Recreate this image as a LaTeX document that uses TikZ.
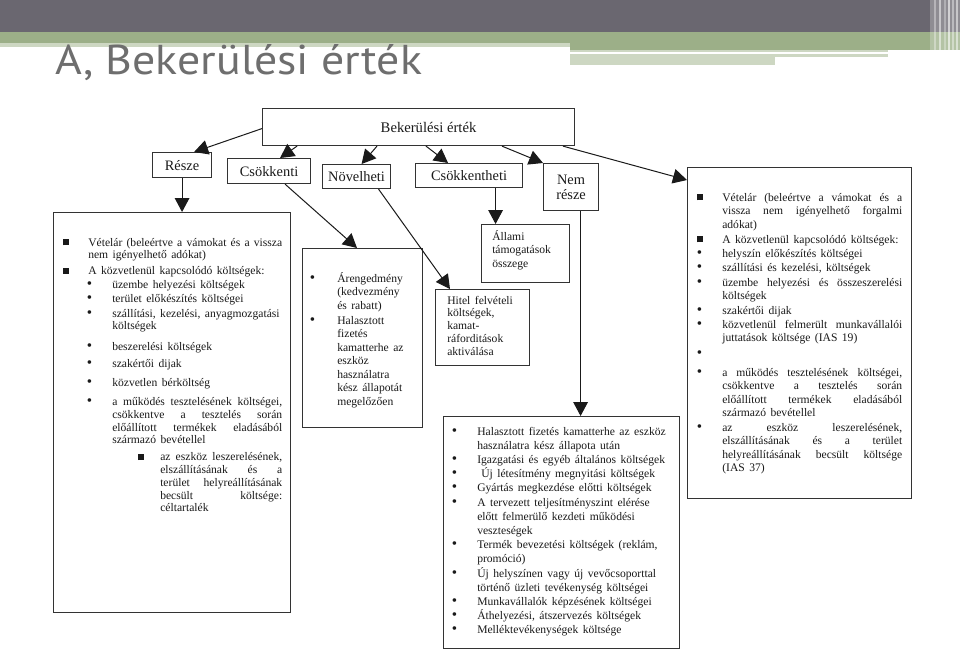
\documentclass[tikz,border=0pt]{standalone}
\usepackage{fontspec}
\setmainfont{Liberation Serif}
\newfontfamily\titlefont{PT Sans}
\usetikzlibrary{arrows.meta,calc}
\newlength\pxl \setlength\pxl{0.75pt}
\definecolor{hdrgray}{HTML}{6A6770}
\definecolor{hdrgreen}{HTML}{9CAF88}
\definecolor{hdrlight}{HTML}{CDD7C2}
\definecolor{titlegray}{HTML}{6E6E6E}
\definecolor{ink}{HTML}{1A1A1A}
\definecolor{boxline}{HTML}{333333}
\newcommand\Sq{\raisebox{0.6\pxl}{\rule{6\pxl}{6\pxl}}}
\newcommand\Bu{\scalebox{1.3}{\textbullet}}
\newcommand\It[4]{\leftskip=#1\pxl\noindent\llap{#2\hspace{#3\pxl}}#4\par}
\newcommand\vgap[1]{\par\vskip#1\pxl}
\newcommand\setbody[1]{\fontsize{8.7pt}{10pt}\selectfont\baselineskip=#1\pxl\tolerance=10000\hbadness=10000\hfuzz=30pt\hyphenpenalty=10000\parindent=0pt\parskip=0pt}
\tikzset{
  box/.style={draw=boxline, line width=0.85pt, inner sep=0pt, text=ink, anchor=north west},
  lbl/.style={font={\fontsize{10.8pt}{11.5pt}\selectfont}},
  body/.style={anchor=base west, inner sep=0pt, text=ink},
  arr/.style={draw=ink, line width=0.75pt, -{Triangle[length=10.5pt,width=11pt]}}
}
\begin{document}
\begin{tikzpicture}[x=0.75pt,y=-0.75pt]
\useasboundingbox (0,0) rectangle (960,658);
\fill[white] (0,0) rectangle (960,658);
% header
\fill[hdrgray] (0,0) rectangle (960,32);
\fill[hdrgreen] (0,32) rectangle (960,43);
\fill[hdrlight] (0,43) rectangle (570,47);
\fill[hdrgreen] (570,43) rectangle (960,50);
\fill[hdrlight] (570,50) rectangle (888,57);
\fill[hdrlight] (570,57) rectangle (775,65);
\fill[white] (570,52) rectangle (888,54);
\fill[white,opacity=0.25] (930,0) rectangle (960,62);
\foreach \xx/\op in {934/0.35,939/0.5,944/0.3,948/0.6,952/0.4,956/0.5}
  \fill[white,opacity=\op] (\xx,0) rectangle (\xx+1.5,64);
\node[anchor=base west, inner sep=0pt, text=titlegray] (title) at (55,74)
  {\resizebox{275pt}{22.5pt}{\titlefont A, Bekerülési érték}};

% label boxes
\node[box, minimum width=234pt, minimum height=27.75pt, font={\fontsize{11pt}{12pt}\selectfont}] (top) at (262,108) {\hspace*{20\pxl}Bekerülési érték};
\node[box, lbl, minimum width=44.25pt, minimum height=18.75pt] (resze) at (152,152) {Része};
\node[box, lbl, minimum width=62.25pt, minimum height=18.75pt] (csok) at (227,158) {Csökkenti};
\node[box, lbl, minimum width=51pt, minimum height=18pt] (nov) at (322,164) {Növelheti};
\node[box, lbl, minimum width=80.25pt, minimum height=18pt] (csokth) at (415,163) {Csökkentheti};
\node[box, lbl, minimum width=41.25pt, minimum height=35.25pt, align=center] (nem) at (543,163) {Nem\\része};

% content boxes
\node[box, minimum width=177.75pt, minimum height=300pt] (lbox) at (53,212) {};
\node[box, minimum width=90pt, minimum height=134.25pt] (cbox) at (302,248) {};
\node[box, minimum width=70.5pt, minimum height=57pt] (hitel) at (435,289) {};
\node[box, minimum width=66pt, minimum height=43.5pt] (allami) at (481,224) {};
\node[box, minimum width=177pt, minimum height=174pt] (bbox) at (443,416) {};
\node[box, minimum width=168pt, minimum height=248.25pt] (rbox) at (687,167) {};

% left box text
\node[body, text width=166.5pt] (ltext) at (60,246) {\setbody{12.8}%
\It{28}{\Sq}{19}{Vételár\hfill (beleértve\hfill a\hfill vámokat\hfill és\hfill a\hfill vissza\\nem igényelhető adókat)}
\vgap{2.5}
\It{28}{\Sq}{19}{A közvetlenül kapcsolódó költségek:}
\vgap{1.5}
\It{52}{\Bu}{20}{üzembe helyezési költségek}
\vgap{1.5}
\It{52}{\Bu}{20}{terület előkészítés költségei}
\vgap{1.5}
\It{52}{\Bu}{20}{szállítási, kezelési, anyagmozgatási\\költségek}
\vgap{8}
\It{52}{\Bu}{20}{beszerelési költségek}
\vgap{4.5}
\It{52}{\Bu}{20}{szakértői dijak}
\vgap{5.5}
\It{52}{\Bu}{20}{közvetlen bérköltség}
\vgap{6.5}
\It{52}{\Bu}{20}{a\hfill működés\hfill tesztelésének\hfill költségei,\\csökkentve\hfill a\hfill tesztelés\hfill során\\előállított\hfill termékek\hfill eladásából\\származó bevétellel}
\vgap{4}
\It{100}{\Sq}{16}{az\hfill eszköz\hfill leszerelésének,\\elszállításának\hfill és\hfill a\\terület\hfill helyreállításának\\becsült\hfill költsége:\\céltartalék}
};

% Csökkenti box text
\node[body, text width=82.5pt] (ctext) at (306,282) {\setbody{13.5}%
\It{31}{\Bu}{22}{Árengedmény\\(kedvezmény\\és rabatt)}
\vgap{1.5}
\It{31}{\Bu}{22}{Halasztott\\fizetés\\kamatterhe az\\eszköz\\használatra\\kész állapotát\\megelőzően}
};

% Hitel box text
\node[body, text width=60pt] (htext) at (447,304) {\setbody{12.8}%
Hitel felvételi\\költségek,\\kamat-\\ráforditások\\aktiválása\par};

% Allami box text
\node[body, text width=56pt] (atext) at (492,240) {\setbody{13.5}%
Állami\\támogatások\\összege\par};

% bottom box text
\node[body, text width=165pt] (btext) at (448,435) {\setbody{14.2}%
\It{29}{\Bu}{20}{Halasztott fizetés kamatterhe az eszköz\\használatra kész állapota után}
\It{29}{\Bu}{20}{Igazgatási és egyéb általános költségek}
\It{29}{\Bu}{20}{\hspace{4\pxl}Új létesítmény megnyitási költségek}
\It{29}{\Bu}{20}{Gyártás megkezdése előtti költségek}
\It{29}{\Bu}{20}{A tervezett teljesítményszint elérése\\előtt felmerülő kezdeti működési\\veszteségek}
\It{29}{\Bu}{20}{Termék bevezetési költségek (reklám,\\promóció)}
\It{29}{\Bu}{20}{Új helyszínen vagy új vevőcsoporttal\\történő üzleti tevékenység költségei}
\It{29}{\Bu}{20}{Munkavállalók képzésének költségei}
\It{29}{\Bu}{20}{Áthelyezési, átszervezés költségek}
\It{29}{\Bu}{20}{Melléktevékenységek költsége}
};

% right box text
\node[body, text width=157.5pt] (rtext) at (692,201) {\setbody{13.5}%
\It{30}{\Sq}{19}{Vételár\hfill (beleértve\hfill a\hfill vámokat\hfill és\hfill a\\vissza\hfill nem\hfill igényelhető\hfill forgalmi\\adókat)}
\vgap{1.5}
\It{30}{\Sq}{19}{A közvetlenül kapcsolódó költségek:}
\vgap{0.5}
\It{30}{\Bu}{20}{helyszín előkészítés költségei}
\vgap{0.5}
\It{30}{\Bu}{20}{szállítási és kezelési, költségek}
\vgap{1.5}
\It{30}{\Bu}{20}{üzembe\hfill helyezési\hfill és\hfill összeszerelési\\költségek}
\vgap{1}
\It{30}{\Bu}{20}{szakértői dijak}
\vgap{0.5}
\It{30}{\Bu}{20}{közvetlenül\hfill felmerült\hfill munkavállalói\\juttatások költsége (IAS 19)}
\vgap{2}
\It{30}{\Bu}{20}{\mbox{}}
\vgap{5.5}
\It{30}{\Bu}{20}{a\hfill működés\hfill tesztelésének\hfill költségei,\\csökkentve\hfill a\hfill tesztelés\hfill során\\előállított\hfill termékek\hfill eladásából\\származó bevétellel}
\vgap{1}
\It{30}{\Bu}{20}{az\hfill eszköz\hfill leszerelésének,\\elszállításának\hfill és\hfill a\hfill terület\\helyreállításának\hfill becsült\hfill költsége\\(IAS 37)}
};

% connectors
\draw[arr] ($(top.west)+(0,1.5)$) -- ($(resze.north)+(12,0)$);
\draw[arr] ($(top.south west)+(35,0)$) -- ($(csok.north)+(11,0)$);
\draw[arr] ($(top.south west)+(115,0)$) -- ($(nov.north)+(5,0)$);
\draw[arr] ($(top.south west)+(164,0)$) -- ($(csokth.north)+(-21,0)$);
\draw[arr] ($(top.south west)+(240,0)$) -- (nem.north west);
\draw[arr] ($(top.south west)+(301,0)$) -- ($(rbox.north west)+(0,13)$);
\draw[arr] (resze.south) -- (resze.south |- lbox.north);
\draw[arr] ($(csok.south)+(16,0)$) -- ($(cbox.north west)+(55,0)$);
\draw[arr] ($(nov.south)+(22,0)$) -- ($(hitel.north west)+(15,0)$);
\coordinate (c1) at ($(csokth.south)+(26.5,0)$);
\draw[arr] (c1) -- (c1 |- allami.north);
\coordinate (c2) at ($(nem.south)+(9.5,0)$);
\draw[arr] (c2) -- (c2 |- bbox.north);
\end{tikzpicture}
\end{document}
